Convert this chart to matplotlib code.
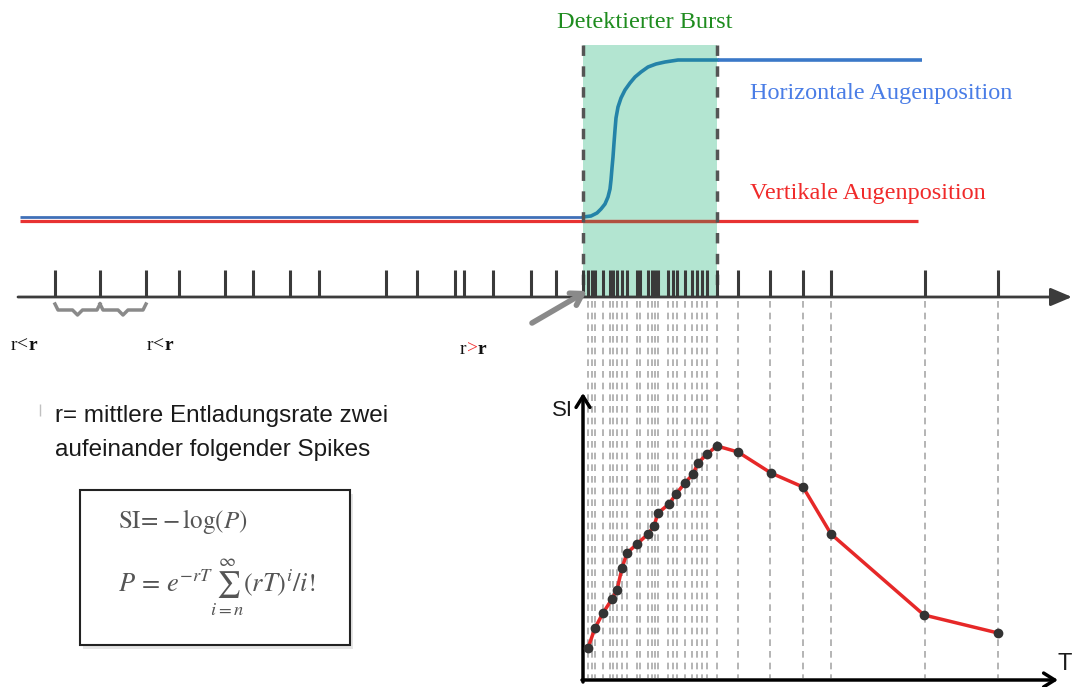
import matplotlib
matplotlib.use("Agg")
import matplotlib.pyplot as plt
from matplotlib.patches import Rectangle

plt.rcParams["mathtext.fontset"] = "custom"
plt.rcParams["mathtext.rm"] = "Liberation Serif"
plt.rcParams["mathtext.it"] = "Liberation Serif:italic"
plt.rcParams["mathtext.bf"] = "Liberation Serif:bold"

SERIF = "Liberation Serif"
SANS = "Liberation Sans"

# ---- spike train (time axis in drawing units) ----
spikes_before = [55, 100, 146, 179, 225, 253, 290, 319, 386, 417, 455, 464, 493, 531, 556]
spikes_burst = [583, 588, 592, 595, 603, 610, 613, 617, 622, 627, 637, 640, 648, 652,
                655, 658, 668, 673, 677, 685, 692, 697, 702, 707, 717]
spikes_after = [738, 770, 803, 831, 925, 998]
burst_start, burst_end = 583, 717

# ---- eye position traces (screen units, smaller = higher) ----
eye_t = [20, 583, 591, 597, 601, 605, 608, 610, 611, 612, 613, 614, 615, 616, 618,
         621, 625, 630, 635, 641, 648, 656, 665, 678, 718, 922]
eye_horizontal = [217, 217, 216, 213, 209, 204, 197, 189, 180, 168, 157, 143, 130, 118,
                  107, 98, 90, 83, 77, 72, 67, 64, 62, 60, 60, 60]
eye_vertical_t = [20, 918]
eye_vertical = [221, 221]

# ---- surprise index per spike ----
si_times = [588, 595, 603, 612, 617, 622, 627, 637, 648, 654, 658, 669, 676, 685, 693,
            698, 707, 717, 738, 771, 803, 831, 924, 998]
si_values = [32, 52, 67, 81, 90, 112, 127, 136, 146, 154, 167, 176, 186, 197, 206,
             217, 226, 234, 228, 207, 193, 146, 65, 47]

fig = plt.figure(figsize=(10.72, 6.87), dpi=100)
ax = fig.add_axes([0, 0, 1, 1])
ax.set_xlim(0, 1072)
ax.set_ylim(687, 0)
ax.axis("off")

axis_y = 297        # spike-train baseline
tick_top = 270
si_base = 680       # SI plot baseline
si_left = 583

# burst window
ax.add_patch(Rectangle((burst_start, 45), burst_end - burst_start, axis_y - 45,
                       facecolor="#b3e5d1", edgecolor="none", zorder=1))

# vertical eye position
ax.plot(eye_vertical_t, eye_vertical, color="#e83232", lw=2.3, solid_capstyle="butt", zorder=2)
ax.plot([burst_start, burst_end], [eye_vertical[0]] * 2, color="#b0503f", lw=2.3,
        solid_capstyle="butt", zorder=2.1)

# horizontal eye position: outside burst blue, inside burst teal
i0 = eye_t.index(burst_start)
i1 = eye_t.index(718)
ax.plot(eye_t[:i0 + 1], eye_horizontal[:i0 + 1], color="#4070b8", lw=2.0,
        solid_capstyle="butt", zorder=3)
ax.plot(eye_t[i0:i1 + 1], eye_horizontal[i0:i1 + 1], color="#2483a8", lw=2.6,
        solid_capstyle="round", solid_joinstyle="round", zorder=3)
ax.plot(eye_t[i1:], eye_horizontal[i1:], color="#3a78c8", lw=2.6,
        solid_capstyle="butt", zorder=3)

# burst boundaries
for xb in (burst_start, burst_end):
    ax.plot([xb, xb], [45, axis_y], color="#555555", lw=2.5, ls=(0, (3, 3)), zorder=4)

# labels in the upper part
ax.text(645, 22, "Detektierter Burst", color="#1e8c1e", fontsize=17.5, family=SERIF,
        ha="center", va="center")
ax.text(750, 93, "Horizontale Augenposition", color="#4a7de6", fontsize=17.5,
        family=SERIF, va="center")
ax.text(750, 193, "Vertikale Augenposition", color="#f02a2a", fontsize=17.5,
        family=SERIF, va="center")

# spike train axis and spikes
ax.annotate("", xy=(1072, axis_y), xytext=(18, axis_y),
            arrowprops=dict(arrowstyle="-|>,head_length=1.3,head_width=0.55",
                            color="#3c3c3c", lw=2, shrinkA=0, shrinkB=0), zorder=5)
all_spikes = spikes_before + spikes_burst + spikes_after
ax.vlines(all_spikes, tick_top, axis_y, color="#3a3a3a", lw=2.2, zorder=5)

# dashed projections of spikes onto the SI plot
proj = [s for s in spikes_burst if s != burst_start] + spikes_after
ax.vlines(proj, axis_y + 4, si_base - 2, colors="#a8a8a8", lw=1.2,
          linestyles=(0, (4, 3)), zorder=2)

# braces between the first spikes
for a, b in [(spikes_before[0], spikes_before[1]), (spikes_before[1], spikes_before[2])]:
    m = (a + b) / 2
    ax.plot([a, a + 3, m - 5, m, m + 5, b - 3, b], [304, 310, 310, 315, 310, 310, 304],
            color="#8a8a8a", lw=2.5, solid_joinstyle="round", zorder=3)


def rich_text(x, y, parts, **kw):
    t = None
    for s, extra in parts:
        props = dict(kw)
        props.update(extra)
        if t is None:
            t = ax.text(x, y, s, va="bottom", **props)
        else:
            t = ax.annotate(s, xy=(1, 0), xycoords=t, va="bottom", **props)
    return t


lab = dict(fontsize=14, family=SERIF, color="#111111")
rich_text(11, 354, [("r", {}), ("<", {}), ("r", {"fontweight": "bold"})], **lab)
rich_text(147, 354, [("r", {}), ("<", {}), ("r", {"fontweight": "bold"})], **lab)
rich_text(460, 358, [("r", {}), (">", {"color": "#f03030"}), ("r", {"fontweight": "bold"})],
          **lab)

# arrow pointing at burst onset
ax.annotate("", xy=(587, 291), xytext=(532, 323),
            arrowprops=dict(arrowstyle="->,head_length=0.8,head_width=0.5",
                            color="#8a8a8a", lw=4, shrinkA=0, shrinkB=0), zorder=6)

# explanation text
ax.vlines(40, 404, 416, color="#c0c0c0", lw=1)
ax.text(55, 416, "r= mittlere Entladungsrate zwei", fontsize=17.5, family=SANS,
        color="#1a1a1a", va="center")
ax.text(55, 450, "aufeinander folgender Spikes", fontsize=17.5, family=SANS,
        color="#1a1a1a", va="center")

# formula box
ax.add_patch(Rectangle((83, 494), 270, 155, facecolor="#000000", alpha=0.10,
                       edgecolor="none", zorder=1))
ax.add_patch(Rectangle((80, 490), 270, 155, facecolor="white", edgecolor="#222222",
                       lw=1.5, zorder=2))
ax.text(118, 522, r"$\mathrm{SI}\!=\!-\log(P)$", math_fontfamily="stix", fontsize=18,
        color="#555555", va="center", zorder=3)
ax.text(118, 587, r"$P\,=\,e^{-rT}\sum_{i=n}^{\infty}(rT)^i/i!$", math_fontfamily="stix",
        fontsize=19, color="#555555", va="center", zorder=3)

# SI plot axes
ax.annotate("", xy=(si_left, 393), xytext=(si_left, si_base + 2),
            arrowprops=dict(arrowstyle="->,head_length=0.8,head_width=0.5",
                            color="black", lw=2.5, shrinkA=0, shrinkB=0), zorder=6)
ax.annotate("", xy=(1058, si_base), xytext=(si_left - 1, si_base),
            arrowprops=dict(arrowstyle="->,head_length=0.8,head_width=0.5",
                            color="black", lw=2.5, shrinkA=0, shrinkB=0), zorder=6)
ax.text(552, 410, "SI", fontsize=16, family=SANS, color="#1a1a1a", va="center")
ax.text(1057, 664, "T", fontsize=17, family=SANS, color="#1a1a1a", va="center")

ax.plot(si_times, [si_base - v for v in si_values], color="#e62828", lw=2.5,
        marker="o", ms=6, mfc="#333333", mec="#333333", zorder=7)

fig.savefig("out.png", dpi=100)
